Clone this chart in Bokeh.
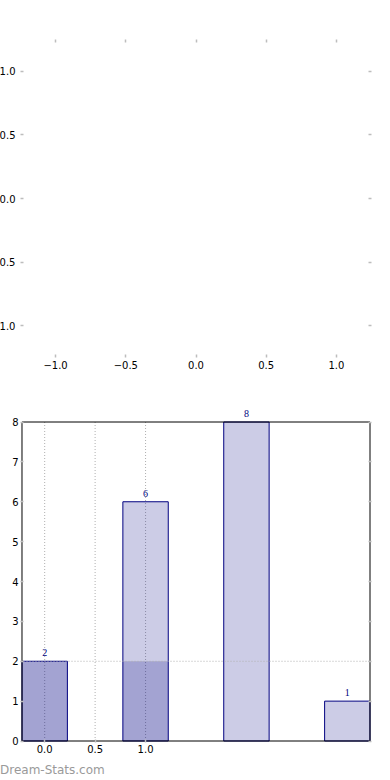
from bokeh.plotting import figure
from bokeh.layouts import column
from bokeh.models import (ColumnDataSource, FixedTicker, LinearAxis, Range1d,
                          LabelSet, Span, Div)
from bokeh.embed import file_html
from bokeh.resources import INLINE

# ---------------- data ----------------
# top (empty) panel
top_ticks = [-1.0, -0.5, 0.0, 0.5, 1.0]
top_tick_labels = ["\u22121.0", "\u22120.5", "0.0", "0.5", "1.0"]
top_limits = (-1.25, 1.25)

# bottom bar panel
categories = [0, 1, 2, 3]
counts = [2, 6, 8, 1]
overlay = [2, 2, 0, 0]
threshold = 2
x_ticks = [0.0, 0.5, 1.0]
x_tick_labels = ["0.0", "0.5", "1.0"]
y_ticks = [0, 1, 2, 3, 4, 5, 6, 7, 8]
y_limits = (0, 8)
x_limits = (-0.225, 3.225)
bar_width = 0.45
watermark = "Dream-Stats.com"

FONT = "DejaVu Sans"
TICK_COLOR = "#bdbdbd"
BAR_COLOR = "navy"
GRID_COLOR = "#b0b0b0"


def style_axis(ax, ticks, labels=None, standoff=3):
    ax.ticker = FixedTicker(ticks=list(ticks))
    ax.axis_line_color = None
    ax.major_tick_in = 3
    ax.major_tick_out = 0
    ax.major_tick_line_color = TICK_COLOR
    ax.major_tick_line_width = 1.5
    ax.minor_tick_line_color = None
    ax.major_label_text_font = FONT
    ax.major_label_text_font_size = "10px"
    ax.major_label_text_color = "black"
    ax.major_label_standoff = standoff
    if labels is None:
        ax.major_label_overrides = {float(t): "" for t in ticks}
    else:
        ax.major_label_overrides = {float(t): l for t, l in zip(ticks, labels)}


# ---------------- top figure ----------------
p1 = figure(width=393, height=375,
            x_range=Range1d(*top_limits), y_range=Range1d(*top_limits),
            output_backend="svg", toolbar_location=None,
            min_border_left=32, min_border_right=10,
            min_border_top=31, min_border_bottom=26)
p1.outline_line_color = None
p1.xgrid.visible = False
p1.ygrid.visible = False
p1.background_fill_color = "white"
p1.border_fill_color = "white"
style_axis(p1.xaxis[0], top_ticks, top_tick_labels, standoff=3)
style_axis(p1.yaxis[0], top_ticks, top_tick_labels, standoff=5)
ax_top = LinearAxis()
style_axis(ax_top, top_ticks)
p1.add_layout(ax_top, "above")
ax_right = LinearAxis()
style_axis(ax_right, top_ticks)
p1.add_layout(ax_right, "right")

# ---------------- bottom figure ----------------
box_w_px, box_h_px = 351, 319
pad_px, top_extra_px = 1.5, 17.5
px_x = box_w_px / (x_limits[1] - x_limits[0])
px_y = box_h_px / (y_limits[1] - y_limits[0])
xr = Range1d(x_limits[0] - pad_px / px_x, x_limits[1] + pad_px / px_x)
yr = Range1d(y_limits[0] - pad_px / px_y, y_limits[1] + top_extra_px / px_y)
frame_w = int(round(box_w_px + 2 * pad_px))
frame_h = int(round(box_h_px + pad_px + top_extra_px))

mb_left, mb_top, mb_bottom = 30, 21, 20
p2 = figure(width=393, height=mb_top + frame_h + mb_bottom,
            x_range=xr, y_range=yr,
            output_backend="svg", toolbar_location=None,
            min_border_left=mb_left, min_border_right=393 - mb_left - frame_w,
            min_border_top=mb_top, min_border_bottom=mb_bottom)
p2.outline_line_color = None
p2.background_fill_color = "white"
p2.border_fill_color = "white"
p2.xgrid.visible = False
p2.ygrid.visible = False

style_axis(p2.xaxis[0], x_ticks, x_tick_labels, standoff=2)
style_axis(p2.yaxis[0], y_ticks, [str(v) for v in y_ticks], standoff=2)
ax2_right = LinearAxis()
style_axis(ax2_right, y_ticks)
p2.add_layout(ax2_right, "right")

# vertical dotted grid lines at x ticks, within the box
p2.segment(x0=x_ticks, y0=[y_limits[0]] * len(x_ticks),
           x1=x_ticks, y1=[y_limits[1]] * len(x_ticks),
           line_color=GRID_COLOR, line_dash="1 2", line_width=1)

src = ColumnDataSource(dict(x=categories, top=counts,
                            label=[str(c) for c in counts]))
p2.vbar(x="x", top="top", width=bar_width, source=src,
        fill_color=BAR_COLOR, fill_alpha=0.2,
        line_color=BAR_COLOR, line_width=1)
p2.vbar(x=categories, top=overlay, width=bar_width,
        fill_color=BAR_COLOR, fill_alpha=0.2, line_color=None)

p2.add_layout(Span(location=threshold, dimension="width",
                   line_color=GRID_COLOR, line_dash="1 2", line_width=1))

# black box round the data area
bx = [x_limits[0], x_limits[1], x_limits[1], x_limits[0], x_limits[0]]
by = [y_limits[0], y_limits[0], y_limits[1], y_limits[1], y_limits[0]]
p2.line(bx, by, line_color="black", line_width=1)

p2.add_layout(LabelSet(x="x", y="top", text="label", source=src,
                       text_align="center", text_baseline="alphabetic",
                       y_offset=5, text_color=BAR_COLOR,
                       text_font=FONT, text_font_size="10px"))

mark = Div(text=('<div style="font-family: \'DejaVu Sans\'; font-size: 12px; '
                 'line-height: 14px; color: #9a9a9a; padding-left: 12px; '
                 'white-space: nowrap;">' + watermark + '</div>'),
           width=393, height=16, margin=0)

layout = column(p1, p2, mark, spacing=0, width=393,
                stylesheets=[":host { margin-left: -12px !important; "
                             "margin-top: 8px !important; }"])

open("out.html", "w").write(file_html(layout, INLINE))
